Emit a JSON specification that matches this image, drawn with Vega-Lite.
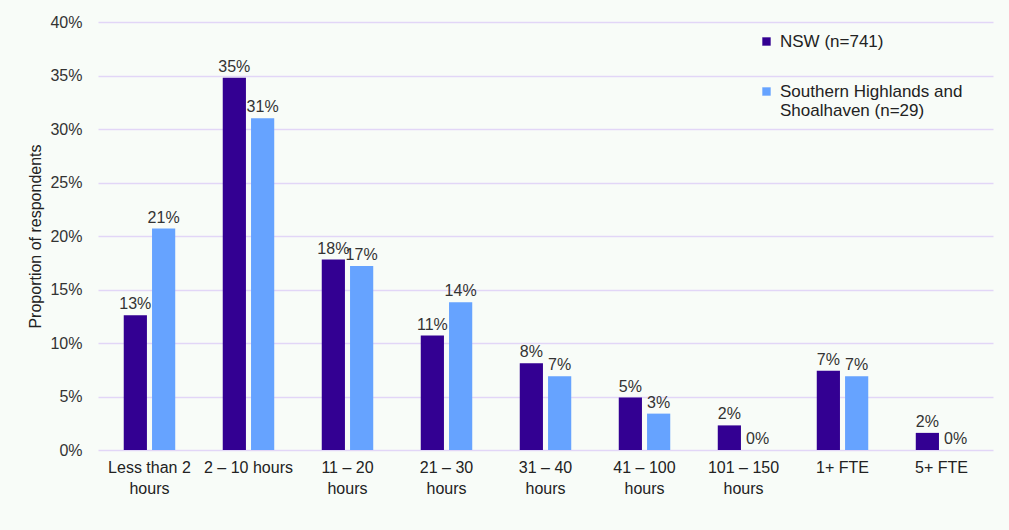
{
  "$schema": "https://vega.github.io/schema/vega-lite/v6.json",
  "width": 895,
  "height": 428,
  "autosize": {"type": "none"},
  "padding": {"left": 98, "top": 22, "right": 16, "bottom": 80},
  "background": "#f8fcf8",
  "config": {
    "view": {"stroke": "transparent"},
    "font": "Liberation Sans",
    "axis": {"labelFont": "Liberation Sans", "titleFont": "Liberation Sans"}
  },
  "data": {
    "values": [
      {"hours": "Less than 2 hours", "group": "NSW (n=741)", "share": 0.126},
      {"hours": "Less than 2 hours", "group": "Southern Highlands and Shoalhaven (n=29)", "share": 0.207},
      {"hours": "2 – 10 hours", "group": "NSW (n=741)", "share": 0.348},
      {"hours": "2 – 10 hours", "group": "Southern Highlands and Shoalhaven (n=29)", "share": 0.310},
      {"hours": "11 – 20 hours", "group": "NSW (n=741)", "share": 0.178},
      {"hours": "11 – 20 hours", "group": "Southern Highlands and Shoalhaven (n=29)", "share": 0.172},
      {"hours": "21 – 30 hours", "group": "NSW (n=741)", "share": 0.107},
      {"hours": "21 – 30 hours", "group": "Southern Highlands and Shoalhaven (n=29)", "share": 0.138},
      {"hours": "31 – 40 hours", "group": "NSW (n=741)", "share": 0.081},
      {"hours": "31 – 40 hours", "group": "Southern Highlands and Shoalhaven (n=29)", "share": 0.069},
      {"hours": "41 – 100 hours", "group": "NSW (n=741)", "share": 0.049},
      {"hours": "41 – 100 hours", "group": "Southern Highlands and Shoalhaven (n=29)", "share": 0.034},
      {"hours": "101 – 150 hours", "group": "NSW (n=741)", "share": 0.023},
      {"hours": "101 – 150 hours", "group": "Southern Highlands and Shoalhaven (n=29)", "share": 0},
      {"hours": "1+ FTE", "group": "NSW (n=741)", "share": 0.074},
      {"hours": "1+ FTE", "group": "Southern Highlands and Shoalhaven (n=29)", "share": 0.069},
      {"hours": "5+ FTE", "group": "NSW (n=741)", "share": 0.016},
      {"hours": "5+ FTE", "group": "Southern Highlands and Shoalhaven (n=29)", "share": 0}
    ]
  },
  "encoding": {
    "x": {
      "field": "hours",
      "type": "nominal",
      "sort": null,
      "title": null,
      "scale": {"paddingInner": 0.48, "paddingOuter": 0.26},
      "axis": {
        "labelAngle": 0,
        "labelFontSize": 16,
        "labelColor": "#222222",
        "labelPadding": 9,
        "labelLineHeight": 21,
        "ticks": false,
        "domain": false,
        "labelExpr": "datum.value == '2 – 10 hours' ? datum.value : (indexof(datum.value, ' hours') > 0 ? [replace(datum.value, ' hours', ''), 'hours'] : datum.value)"
      }
    },
    "xOffset": {
      "field": "group",
      "type": "nominal",
      "scale": {"paddingInner": 0.18, "paddingOuter": 0}
    },
    "y": {
      "field": "share",
      "type": "quantitative",
      "title": "Proportion of respondents",
      "scale": {"domain": [0, 0.4]},
      "axis": {
        "values": [0, 0.05, 0.1, 0.15, 0.2, 0.25, 0.3, 0.35, 0.4],
        "format": ".0%",
        "labelFontSize": 16,
        "labelColor": "#333333",
        "labelPadding": 16,
        "titleFontSize": 16,
        "titleFontWeight": "normal",
        "titleColor": "#222222",
        "titlePadding": 6,
        "ticks": false,
        "domain": false,
        "gridColor": "#e2d6f7",
        "gridWidth": 1.5
      }
    }
  },
  "layer": [
    {
      "mark": {"type": "bar"},
      "encoding": {
        "color": {
          "field": "group",
          "type": "nominal",
          "scale": {"range": ["#330092", "#66a3ff"]},
          "legend": {
            "title": null,
            "orient": "none",
            "legendX": 660,
            "legendY": 11,
            "symbolType": "square",
            "symbolSize": 70,
            "symbolStrokeWidth": 0,
            "labelFontSize": 17,
            "labelColor": "#222222",
            "labelLimit": 300,
            "labelLineHeight": 20,
            "rowPadding": 32,
            "labelOffset": 5,
            "labelExpr": "datum.label == 'Southern Highlands and Shoalhaven (n=29)' ? ['Southern Highlands and', 'Shoalhaven (n=29)'] : datum.label"
          }
        }
      }
    },
    {
      "mark": {"type": "text", "baseline": "bottom", "dy": -3, "fontSize": 16, "color": "#333333"},
      "encoding": {
        "text": {"field": "share", "type": "quantitative", "format": ".0%"},
        "color": {"value": "#333333"}
      }
    }
  ]
}
